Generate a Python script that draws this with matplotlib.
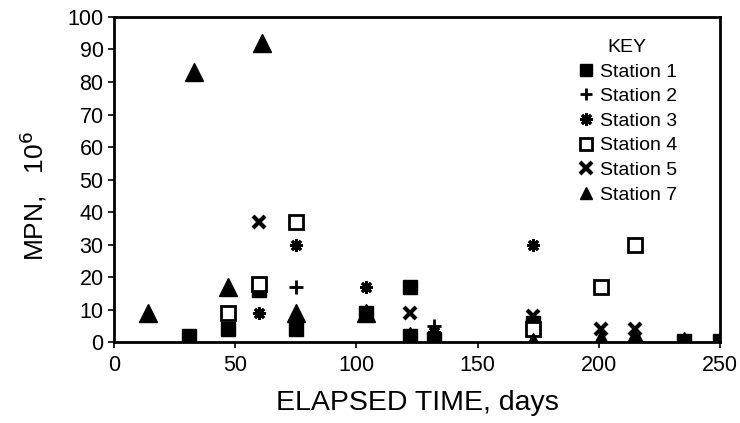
import matplotlib
matplotlib.use("Agg")
import matplotlib.pyplot as plt

plt.rcParams['font.family'] = ['Liberation Sans', 'DejaVu Sans']

# Data (elapsed time in days, MPN x 10^6)
st1_x = [31, 47, 60, 75, 104, 122, 122, 132, 173, 235, 250]
st1_y = [2, 4, 16, 4, 9, 17, 2, 1, 6, 0.5, 0.3]
st2_x = [75, 132]
st2_y = [17, 5]
st3_x = [60, 75, 104, 132, 173]
st3_y = [9, 30, 17, 3, 30]
st4_x = [47, 60, 75, 173, 201, 215]
st4_y = [9, 18, 37, 4, 17, 30]
st5_x = [60, 122, 173, 201, 215]
st5_y = [37, 9, 8, 4, 4]
st7_x = [14, 33, 47, 61, 75, 104, 122, 132, 173, 201, 215, 235, 250]
st7_y = [9, 83, 17, 92, 9, 9, 2, 0, 0, 1, 2, 0.5, 0.5]

fig = plt.figure(figsize=(7.40, 4.23), dpi=100)
ax = fig.add_axes([0.154, 0.191, 0.819, 0.769])

ax.plot(st1_x, st1_y, ls='none', marker='s', ms=10, color='black', label='Station 1')
ax.plot(st2_x, st2_y, ls='none', marker='+', ms=10, mew=2, color='black', label='Station 2')
ax.plot(st3_x, st3_y, ls='none', marker=(8, 2, 0), ms=9, mew=2, color='black', label='Station 3')
ax.plot(st4_x, st4_y, ls='none', marker='s', ms=10, mew=2, mfc='white', color='black',
        label='Station 4')
ax.plot(st5_x, st5_y, ls='none', marker='x', ms=9, mew=3, color='black', label='Station 5')
ax.plot(st7_x, st7_y, ls='none', marker='^', ms=13, color='black', label='Station 7')

ax.set_xlim(0, 250)
ax.set_ylim(0, 100)
ax.set_xticks(range(0, 251, 50))
ax.set_yticks(range(0, 101, 10))
ax.tick_params(labelsize=15.5, length=4, width=1.2, direction='out')
ax.tick_params(axis='x', pad=5)
for s in ax.spines.values():
    s.set_linewidth(2)

ax.set_xlabel('ELAPSED TIME, days', fontsize=20.5, labelpad=10)
ax.set_ylabel('MPN,   10$^6$', fontsize=19)
ax.yaxis.set_label_coords(-0.108, 0.45)

leg = ax.legend(title='KEY', loc='upper right', bbox_to_anchor=(0.942, 0.956), frameon=False,
                fontsize=14, title_fontsize=14, handletextpad=0.2, labelspacing=0.36,
                handlelength=1.0, borderaxespad=0)
for h in leg.legend_handles:
    h.set_markersize(9)

fig.savefig('out.png', dpi=100)
